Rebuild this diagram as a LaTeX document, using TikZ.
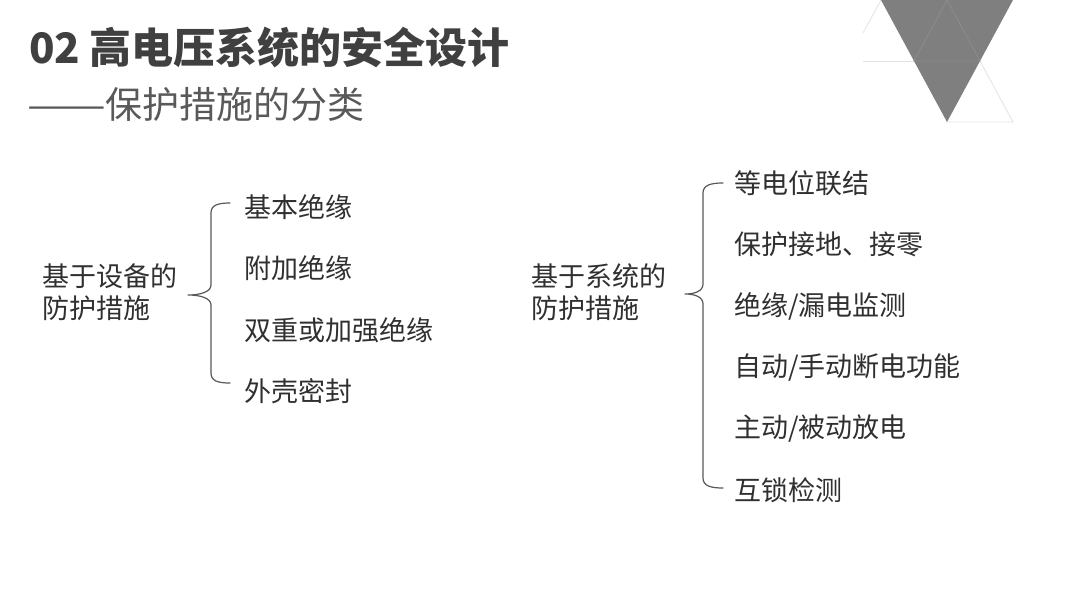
\documentclass[tikz,border=0pt]{standalone}
\usepackage{fontspec}
\usepackage{graphicx}
\setmainfont{Noto Sans CJK SC}
\newfontfamily\cjk{Noto Sans CJK SC}
\definecolor{titlecol}{HTML}{404040}
\definecolor{subcol}{HTML}{595959}
\definecolor{bodycol}{HTML}{303030}
\definecolor{bracecol}{HTML}{595959}
\definecolor{tricol}{HTML}{7F7F7F}
\definecolor{gridout}{HTML}{E3E3E3}
\definecolor{gridin}{HTML}{8C8C8C}
\tikzset{
  item/.style={anchor=west, inner sep=0pt, text=bodycol, font=\cjk\fontsize{27}{32}\selectfont},
  grouplabel/.style={anchor=west, inner sep=0pt, align=left, text=bodycol, font=\cjk\fontsize{27}{32}\selectfont},
  bracestyle/.style={draw=bracecol, line width=1.2pt, line cap=round, line join=round},
  gridline/.style={draw=gridout, line width=0.8pt},
  gridinner/.style={draw=gridin, line width=0.8pt}
}
\begin{document}
\begin{tikzpicture}[x=1pt,y=-1pt]
\useasboundingbox (0,0) rectangle (1076,606);
\fill[white] (0,0) rectangle (1076,606);

% decorative triangles
\draw[gridline] (863,33) -- (881,0);
\draw[gridline] (863,61) -- (914,61);
\draw[gridline] (980,61) -- (1013,122) -- (947,122);
\fill[tricol] (881,0) -- (1013,0) -- (947,122) -- cycle;
\draw[gridinner] (914,61) -- (947,0) -- (980,61) -- cycle;

% titles
\node[anchor=west, inner sep=0pt, text=titlecol, font=\cjk\bfseries\fontsize{42}{48}\selectfont] (title) at (29,47) {02 高电压系统的安全设计};
\node[anchor=west, inner sep=0pt, text=subcol, font=\cjk\fontsize{37}{44}\selectfont] (subtitle) at (27,104) {\scalebox{1.27}[1]{——}保护措施的分类};

% left group
\node[grouplabel] (lgroup) at (42,292) {基于设备的\\防护措施};
\node[item] (l1) at (244,207) {基本绝缘};
\node[item] (l2) at (244,268.5) {附加绝缘};
\node[item] (l3) at (244,330) {双重或加强绝缘};
\node[item] (l4) at (244,391.5) {外壳密封};

\coordinate (lbt) at (230,203);
\coordinate (lbm) at (188,295);
\coordinate (lbb) at (230,383);
\draw[bracestyle] (lbt) .. controls (218,203) and (211,205) .. (211,213) -- (211,285)
  .. controls (211,292) and (200,295) .. (lbm)
  .. controls (200,295) and (211,298) .. (211,305) -- (211,373)
  .. controls (211,381) and (218,383) .. (lbb);

% right group
\node[grouplabel] (rgroup) at (531,292) {基于系统的\\防护措施};
\node[item] (r1) at (734,183) {等电位联结};
\node[item] (r2) at (734,244.5) {保护接地、接零};
\node[item] (r3) at (734,306) {绝缘/漏电监测};
\node[item] (r4) at (734,367.5) {自动/手动断电功能};
\node[item] (r5) at (734,429) {主动/被动放电};
\node[item] (r6) at (734,490.5) {互锁检测};

\coordinate (rbt) at (723,183);
\coordinate (rbm) at (685,294);
\coordinate (rbb) at (723,488);
\draw[bracestyle] (rbt) .. controls (711,183) and (703,185) .. (703,193) -- (703,284)
  .. controls (703,291) and (695,294) .. (rbm)
  .. controls (695,294) and (703,297) .. (703,304) -- (703,478)
  .. controls (703,486) and (711,488) .. (rbb);
\end{tikzpicture}
\end{document}
